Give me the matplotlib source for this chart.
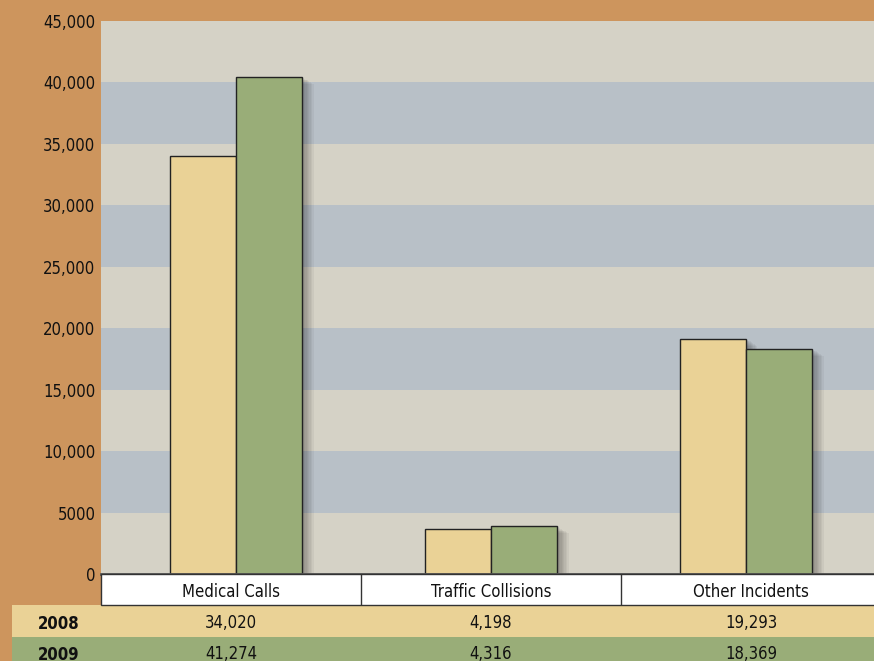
import matplotlib
matplotlib.use('Agg')
import matplotlib.pyplot as plt
import matplotlib.patheffects as pe
from matplotlib.patches import Rectangle
import numpy as np

# datos
categories = ['Medical Calls', 'Traffic Collisions', 'Other Incidents']
years = ['2008', '2009']
# valores de la tabla
table_2008 = [34020, 4198, 19293]
table_2009 = [41274, 4316, 18369]
# alturas de las barras tal como se ven en el grafico
bars_2008 = [34030, 3680, 19130]
bars_2009 = [40430, 3870, 18320]
y_ticks = [0, 5000, 10000, 15000, 20000, 25000, 30000, 35000, 40000, 45000]
y_labels = ['0', '5000', '10,000', '15,000', '20,000', '25,000', '30,000', '35,000', '40,000', '45,000']

c08 = '#ead296'
c09 = '#99ad78'
beige = '#d5d2c6'
blue = '#b8c0c7'

plt.rcParams['font.family'] = ['DejaVu Sans']
plt.rcParams['font.stretch'] = 'condensed'

fig = plt.figure(figsize=(8.74, 6.61), dpi=100)
fig.patch.set_facecolor('#cd955d')

L = 101 / 874
W = 780 / 874
ax = fig.add_axes([L, 1 - 574 / 661, W, (574 - 21) / 661])
ax.set_xlim(-0.531, 2.528)
ax.set_ylim(0, 45000)
ax.set_facecolor(beige)

# bandas alternas
for i in range(len(y_ticks) - 1):
    ax.axhspan(y_ticks[i], y_ticks[i + 1], color=blue if i % 2 else beige, zorder=0, lw=0)

x = np.arange(len(categories))
w = 0.259
shadow = [pe.SimplePatchShadow(offset=(o, -o * 0.6), alpha=0.045, shadow_rgbFace='k') for o in range(1, 9)] + [pe.Normal()]
b1 = ax.bar(x - w / 2, bars_2008, w, color=c08, edgecolor='#222222', lw=1, zorder=3)
b2 = ax.bar(x + w / 2, bars_2009, w, color=c09, edgecolor='#222222', lw=1, zorder=3)
for b in list(b1) + list(b2):
    b.set_path_effects(shadow)

ax.axhline(0, color='#555555', lw=2, zorder=4, clip_on=False)
ax.set_yticks(y_ticks)
ax.set_yticklabels(y_labels, fontsize=12, color='#111111')
ax.tick_params(axis='y', length=0, pad=4)
ax.set_xticks([])
for s in ax.spines.values():
    s.set_visible(False)

# tabla de abajo
tab = fig.add_axes([L, -7 / 661, W, 94 / 661])
tab.set_xlim(-0.5, 2.5)
tab.set_ylim(0, 3)
tab.axis('off')

left = -0.5 - (101 - 12) / 260
tab.add_patch(Rectangle((left, 1), 3.5, 1, fc=c08, lw=0, clip_on=False))
tab.add_patch(Rectangle((left, -1), 3.5, 2, fc=c09, lw=0, clip_on=False))
tab.add_patch(Rectangle((-0.5, 2), 3.2, 1, fc='white', ec='#333333', lw=1, clip_on=False))
tab.vlines(x[:-1] + 0.5, 2, 3, color='#333333', lw=1)

for i, cat in enumerate(categories):
    tab.text(x[i], 2.42, cat, ha='center', va='center', fontsize=12, color='#111111')
    tab.text(x[i], 1.45, f'{table_2008[i]:,}', ha='center', va='center', fontsize=12, color='#111111')
    tab.text(x[i], 0.45, f'{table_2009[i]:,}', ha='center', va='center', fontsize=12, color='#111111')

lab_x = -0.5 - (101 - 38) / 260
tab.text(lab_x, 1.4, years[0], ha='left', va='center', fontsize=12, fontweight='bold', color='#111111', clip_on=False)
tab.text(lab_x, 0.4, years[1], ha='left', va='center', fontsize=12, fontweight='bold', color='#111111', clip_on=False)

fig.savefig('out.png', dpi=100, facecolor=fig.get_facecolor())
